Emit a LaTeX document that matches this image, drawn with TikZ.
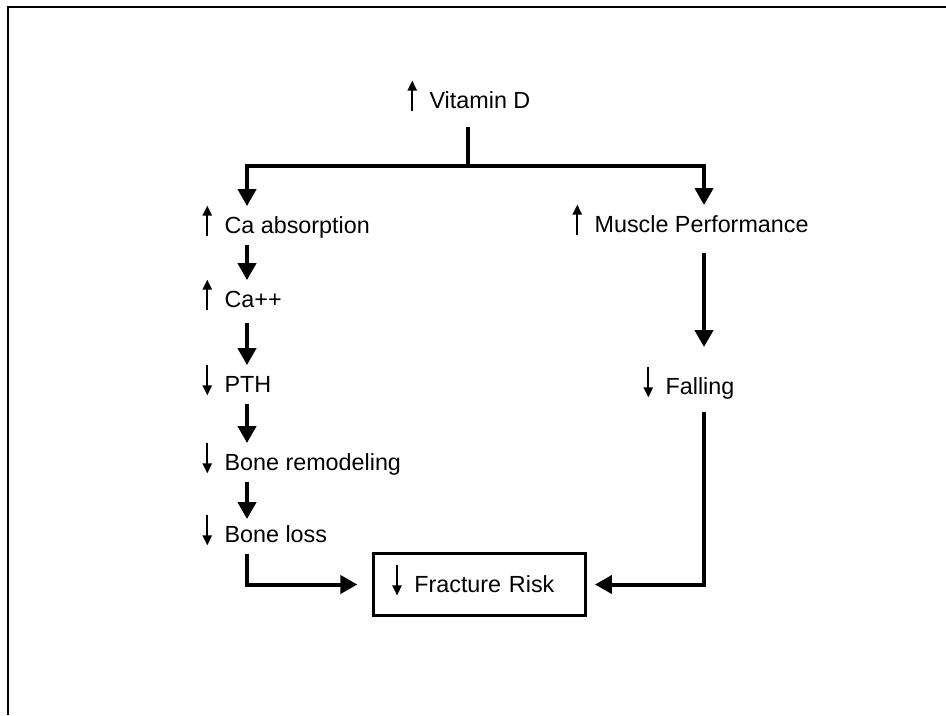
\documentclass[tikz,border=0pt]{standalone}
\usepackage{fontspec}
\setmainfont{Liberation Sans}
\usetikzlibrary{arrows.meta}

\newcommand{\incr}{\tikz[baseline=0pt]{\useasboundingbox (-3pt,0pt) rectangle (3pt,1pt);
  \draw[line width=1.3pt,-{Triangle[width=7pt,length=7.5pt]}] (0pt,-2.5pt) -- (0pt,20.5pt);}\hspace{10pt}}
\newcommand{\decr}{\tikz[baseline=0pt]{\useasboundingbox (-3pt,0pt) rectangle (3pt,1pt);
  \draw[line width=1.3pt,-{Triangle[width=7pt,length=7.5pt]}] (0pt,20.5pt) -- (0pt,-2.5pt);}\hspace{10pt}}

\begin{document}
\begin{tikzpicture}[
  x=0.75pt,y=-0.75pt,
  factor/.style={font=\fontsize{17.5}{21}\selectfont,anchor=base west,inner xsep=0pt,inner ysep=0pt,text height=20pt,text depth=9pt},
  outcome/.style={draw,line width=2.25pt,font=\fontsize{17.5}{21}\selectfont,text width=129.75pt,align=left,
    inner xsep=14.6pt,inner ysep=0pt,text height=28.9pt,text depth=17.6pt},
  flow/.style={line width=3pt,-{Triangle[width=13.5pt,length=12.75pt]}},
  frame/.style={line width=1.5pt}
]
  \useasboundingbox (0,0) rectangle (946,715);
  \draw[frame] (8,715) -- (8,7) -- (946,7);

  \node[factor] (vitd) at (408,108) {\incr Vitamin D};
  \node[factor] (cabs) at (203,233) {\incr Ca absorption};
  \node[factor] (musc) at (573,232) {\incr Muscle Performance};
  \node[factor] (ca) at (203,307) {\incr Ca++};
  \node[factor] (pth) at (203,392) {\decr PTH};
  \node[factor] (fall) at (644,394) {\decr Falling};
  \node[factor] (remod) at (203,470) {\decr Bone remodeling};
  \node[factor] (loss) at (203,542) {\decr Bone loss};
  \node[outcome] (risk) at (479.5,584.5) {\decr Fracture Risk};

  \coordinate (split) at (468,166);
  \coordinate (lspine) at (247,0);
  \coordinate (rspine) at (704,0);

  \draw[line width=3pt,shorten <=5pt] (vitd.south -| split) -- (split);
  \draw[flow] (split) -| (cabs.north -| lspine);
  \draw[flow] (split) -| (musc.north -| rspine);
  \draw[flow] (cabs.south -| lspine) -- (ca.north -| lspine);
  \draw[flow,shorten <=3pt] (ca.south -| lspine) -- (pth.north -| lspine);
  \draw[flow] (pth.south -| lspine) -- (remod.north -| lspine);
  \draw[flow,shorten >=-3pt] (remod.south -| lspine) -- (loss.north -| lspine);
  \draw[flow,shorten >=11pt] (loss.south -| lspine) |- (risk.west);
  \draw[flow,shorten <=6.75pt,shorten >=15pt] (musc.south -| rspine) -- (fall.north -| rspine);
  \draw[flow,shorten <=4.5pt,shorten >=6pt] (fall.south -| rspine) |- (risk.east);
\end{tikzpicture}
\end{document}
